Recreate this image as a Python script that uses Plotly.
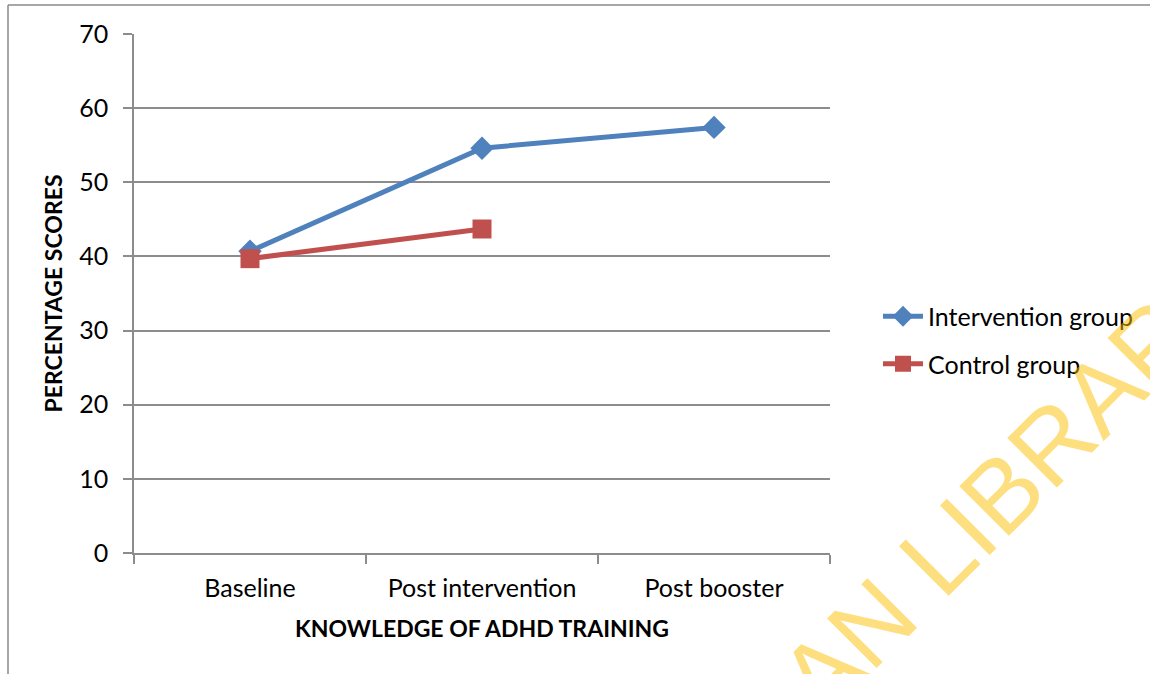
import plotly.graph_objects as go

# Assessment points along the x axis
stages = ["Baseline", "Post intervention", "Post booster"]

# Mean percentage scores per group
intervention_scores = [40.7, 54.6, 57.4]
control_scores = [39.7, 43.7, None]

y_ticks = [0, 10, 20, 30, 40, 50, 60, 70]

FONT = "Lato"
GRID = "#8c8c8c"
W, H = 1150, 674
M_L, M_R, M_T, M_B = 134, 320, 34, 121

fig = go.Figure()

fig.add_trace(go.Scatter(
    x=stages, y=intervention_scores, name="Intervention group",
    mode="lines+markers",
    line=dict(color="#4F81BD", width=5),
    marker=dict(symbol="diamond", size=18, color="#4F81BD"),
    legendgroup="a",
))
fig.add_trace(go.Scatter(
    x=stages, y=control_scores, name="Control group",
    mode="lines+markers",
    line=dict(color="#C0504D", width=5),
    marker=dict(symbol="square", size=19, color="#C0504D"),
    legendgroup="b",
))

# Pixel -> paper coordinate helpers
px_to_x = lambda px: (px - M_L) / (W - M_L - M_R)
px_to_y = lambda py: (H - M_B - py) / (H - M_T - M_B)

# Outer frame (top and left edges)
frame = dict(color="#8a8a8a", width=1.5)
fig.add_shape(type="line", xref="paper", yref="paper",
              x0=px_to_x(8), x1=px_to_x(1160), y0=px_to_y(5), y1=px_to_y(5), line=frame)
fig.add_shape(type="line", xref="paper", yref="paper",
              x0=px_to_x(8), x1=px_to_x(8), y0=px_to_y(5), y1=px_to_y(690), line=frame)

# Library watermark, anchored at the end of the string (top-right of the rotated box)
fig.add_annotation(
    text="UNIVERSITY OF IBADAN LIBRARY",
    xref="paper", yref="paper",
    x=px_to_x(1268), y=px_to_y(227),
    xanchor="right", yanchor="top",
    textangle=-45, showarrow=False,
    font=dict(family="Liberation Sans", size=102, color="rgba(253,192,0,0.5)"),
)

fig.update_layout(
    width=W, height=H,
    margin=dict(l=M_L, r=M_R, t=M_T, b=M_B),
    paper_bgcolor="white", plot_bgcolor="white",
    font=dict(family=FONT, size=25, color="#000000"),
    showlegend=True,
    legend=dict(
        x=px_to_x(878), y=px_to_y(340), xanchor="left", yanchor="middle",
        font=dict(family=FONT, size=25), tracegroupgap=12,
        bgcolor="rgba(0,0,0,0)", itemwidth=40,
    ),
    xaxis=dict(
        type="category", range=[-0.5, 2.5],
        showgrid=False, showline=True, linecolor=GRID, linewidth=1.5,
        ticks="outside", tickson="boundaries", ticklen=9, tickcolor=GRID, tickwidth=1.5,
        title=dict(text="<b>KNOWLEDGE OF ADHD TRAINING</b>", font=dict(family=FONT, size=23), standoff=20),
        ticklabelstandoff=12,
    ),
    yaxis=dict(
        range=[0, 70], tickvals=y_ticks,
        showgrid=True, gridcolor=GRID, gridwidth=1.5,
        showline=True, linecolor=GRID, linewidth=1.5,
        ticks="outside", ticklen=9, tickcolor=GRID, tickwidth=1.5,
        zeroline=False,
        title=dict(text="<b>PERCENTAGE SCORES</b>", font=dict(family=FONT, size=23), standoff=10),
        ticklabelstandoff=10,
    ),
)

fig.write_html("out.html")
